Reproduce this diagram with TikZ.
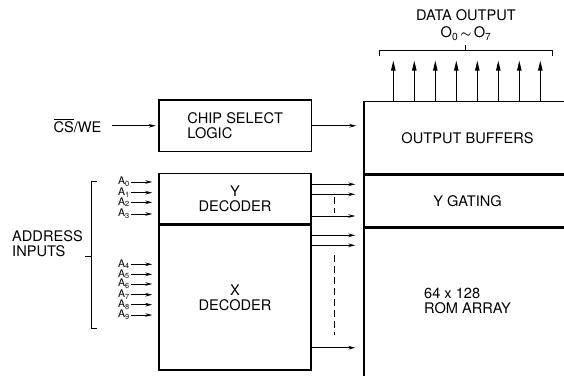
\documentclass[tikz,border=0pt]{standalone}
\usepackage{amsmath}
\usepackage{fontspec}
\setmainfont{TeX Gyre Heros}
\usetikzlibrary{positioning, arrows.meta}

\begin{document}
\begin{tikzpicture}[
  x=1pt, y=-1pt,
  >={Stealth[length=7pt,width=3.6pt]},
  blk/.style={draw, line width=1.5pt, inner sep=0pt, font=\fontsize{14.6}{15}\selectfont, align=center},
  lbl/.style={font=\fontsize{14.6}{15}\selectfont, inner sep=2pt},
  pin/.style={font=\fontsize{10.5}{10}\selectfont, inner sep=1pt, anchor=east},
  arr/.style={->, line width=0.8pt},
  darr/.style={-{Triangle[length=10pt,width=4.5pt]}, line width=1pt},
  brk/.style={line width=0.8pt},
  gap/.style={dash pattern=on 7pt off 4pt, line width=0.6pt}
]
\useasboundingbox (0,0) rectangle (564,375);
\clip (0,0) rectangle (564,375);

% left column
\node[blk, minimum width=152.5pt, minimum height=51.5pt, align=left] (cs) at (235.25,125.75) {CHIP SELECT\\LOGIC};
\node[blk, minimum width=152pt, minimum height=50.7pt] (ydec) at (235,198.65) {Y\\DECODER};
\node[blk, minimum width=152pt, minimum height=144.3pt, anchor=north] (xdec) at (ydec.south) {X\\DECODER};

% right column (runs off the page)
\node[blk, minimum width=207pt, minimum height=72.6pt, anchor=north west] (obuf) at (363.3,100.7) {OUTPUT BUFFERS};
\node[blk, minimum width=207pt, minimum height=50.7pt, anchor=north] (ygate) at (obuf.south) {Y GATING};
\node[blk, minimum width=207pt, minimum height=160pt, anchor=north] (rom) at (ygate.south) {};
\node[lbl, align=left, below=59pt of ygate] (romtxt) {64 x 128\\ROM ARRAY};

% labels
\node[lbl] (cswe) at (77.5,125.75) {\(\overline{\mbox{CS}}\)/WE};
\node[lbl, align=left, anchor=west] (addr) at (10,244) {ADDRESS\\INPUTS};
\node[lbl] (dout) at (466,15) {DATA OUTPUT};
\node[lbl, below=2pt of dout] (orange) {O\textsubscript{0}\,{\large\(\boldsymbol{\sim}\)}\,O\textsubscript{7}};

\draw[arr, shorten <=8pt, shorten >=2.5pt] (cswe) -- (cs);
\draw[arr, shorten >=7pt] (cs) -- (cs -| obuf.west);

% address pins
\foreach \i/\y in {0/182,1/192.7,2/202.3,3/214} {
  \node[pin] (a\i) at (131,\y) {A\textsubscript{\i}};
  \draw[arr, shorten >=6pt] (a\i) -- (a\i -| ydec.west);
}
\foreach \i/\y in {4/264.3,5/274.3,6/284,7/294.7,8/304.7,9/315} {
  \node[pin] (a\i) at (131,\y) {A\textsubscript{\i}};
  \draw[arr, shorten >=6pt] (a\i) -- (a\i -| xdec.west);
}
\draw[brk] (96.7,181) -- (91.7,181) -- (91.7,328.3) -- (96.7,328.3);
\draw[brk] (91.7,256) -- (85,256);

% decoder outputs
\foreach \y in {184.3,194.3,216}
  \draw[arr, shorten >=8pt] (ydec.east |- 0,\y) -- (ygate.west |- 0,\y);
\foreach \y in {235.3,245.3,347.7}
  \draw[arr, shorten >=8pt] (xdec.east |- 0,\y) -- (rom.west |- 0,\y);
\draw[gap] (334.3,197) -- (334.3,212.7);
\draw[gap] (334.3,255) -- (334.3,335);

% data outputs
\foreach \k in {0,...,7}
  \draw[darr] ([xshift=30pt+21pt*\k]obuf.north west) -- ++(0,-40);
\draw[brk] (379,56) -- (379,50) -- (552,50) -- (552,56);
\draw[brk] (465.7,50) -- (465.7,45);
\end{tikzpicture}
\end{document}
